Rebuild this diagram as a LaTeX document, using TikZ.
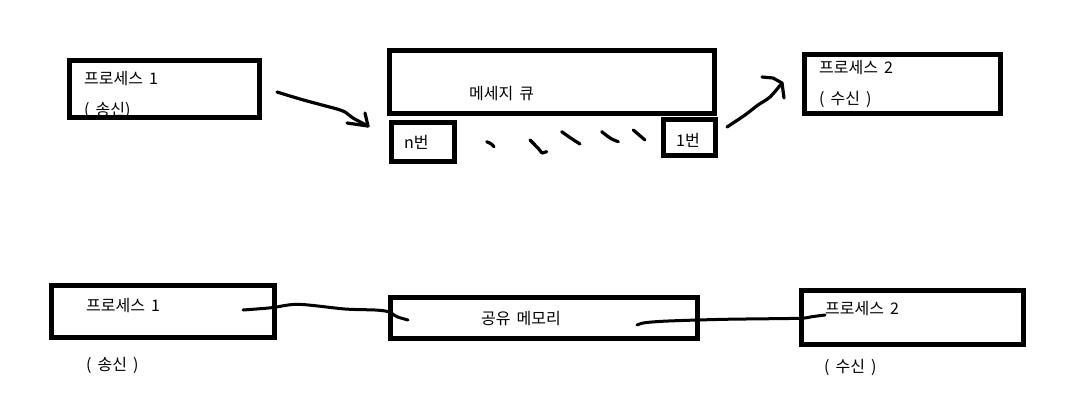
\documentclass[tikz,border=0pt]{standalone}
\usepackage{fontspec}
\setmainfont{Noto Sans CJK KR}[WordSpace=1.7]

\begin{document}
\begin{tikzpicture}[x=1pt, y=-1pt,
  every node/.style={font=\fontsize{16}{18}\selectfont, inner sep=0pt},
  box/.style={draw, line width=5pt, rectangle},
  lbl/.style={anchor=west},
  pen/.style={line width=3.2pt, line cap=round, line join=round}]
	\useasboundingbox (0,0) rectangle (1070,405);
	% message queue (top)
	\node[lbl] (send1) at (84,79) {프로세스 1};
	\node[lbl] (send1b) at (84,110) {( 송신)};
	\node[lbl] (mq) at (469,94) {메세지 큐};
	\node[lbl] (qn) at (404,142) {n번};
	\node[lbl] (q1) at (676,140) {1번};
	\node[lbl] (recv2) at (819,68) {프로세스 2};
	\node[lbl] (recv2b) at (819,99) {( 수신 )};
	\node[box, minimum width=190pt, minimum height=57pt] (p1top) at (164,89) {};
	\node[box, minimum width=325pt, minimum height=63pt] (queue) at (552,82) {};
	\node[box, minimum width=63pt, minimum height=39pt] (nbox) at (423,142) {};
	\node[box, minimum width=52pt, minimum height=36pt] (onebox) at (689,137.5) {};
	\node[box, minimum width=196pt, minimum height=59pt] (p2top) at (902,84) {};
	\coordinate (a1s) at (277,92);
	\coordinate (a1e) at (368,126);
	\draw[pen] plot[smooth] coordinates {(a1s) (300,99) (322,105) (337,109) (345,112) (353,118) (a1e)};
	\draw[pen] (347,123) -- (a1e) -- (365,113);
	\coordinate (a2s) at (727,127);
	\coordinate (a2e) at (782,83);
	\draw[pen] plot[smooth] coordinates {(a2s) (745,115) (758,105) (770,97) (a2e)};
	\draw[pen] (762,77) -- (773,78) -- (a2e) -- (784,98);
	\foreach \a/\b/\c in {{486.7,141.7}/{491.7,144}/{494,146.7},
		{530,140}/{539,149}/{542,153},
		{561.7,131.7}/{572,139}/{580,144},
		{601.7,131.7}/{611,139}/{618.3,141.7},
		{633.3,130}/{640,135}/{645,140}}
		\draw[pen] (\a) .. controls (\b) .. (\c);
	\draw[pen] (542,153) -- (546.7,151.7);
	% shared memory (bottom)
	\node[lbl] (send2) at (86,306) {프로세스 1};
	\node[lbl] (send2b) at (86,365) {( 송신 )};
	\node[lbl] (shmtxt) at (481,319) {공유 메모리};
	\node[lbl] (recv3) at (825,309) {프로세스 2};
	\node[lbl] (recv3b) at (824,367) {( 수신 )};
	\node[box, minimum width=223pt, minimum height=52pt] (p1bot) at (162.5,311) {};
	\node[box, minimum width=307pt, minimum height=41pt] (shm) at (543.5,318) {};
	\node[box, minimum width=222pt, minimum height=54pt] (p2bot) at (912,317) {};
	\coordinate (l1s) at (243,310);
	\coordinate (l1e) at (408,320);
	\draw[pen, line width=3pt] plot[smooth] coordinates {(l1s) (271.7,307.7) (298.3,304.3) (345,309) (375,310) (388.3,311.7) (397,316.7) (l1e)};
	\coordinate (l2s) at (637,325);
	\coordinate (l2e) at (825,315);
	\draw[pen, line width=3pt] plot[smooth] coordinates {(l2s) (645,322.7) (668.3,321) (725,319.3) (798.3,318.3) (811.7,316.7) (l2e)};
\end{tikzpicture}
\end{document}
